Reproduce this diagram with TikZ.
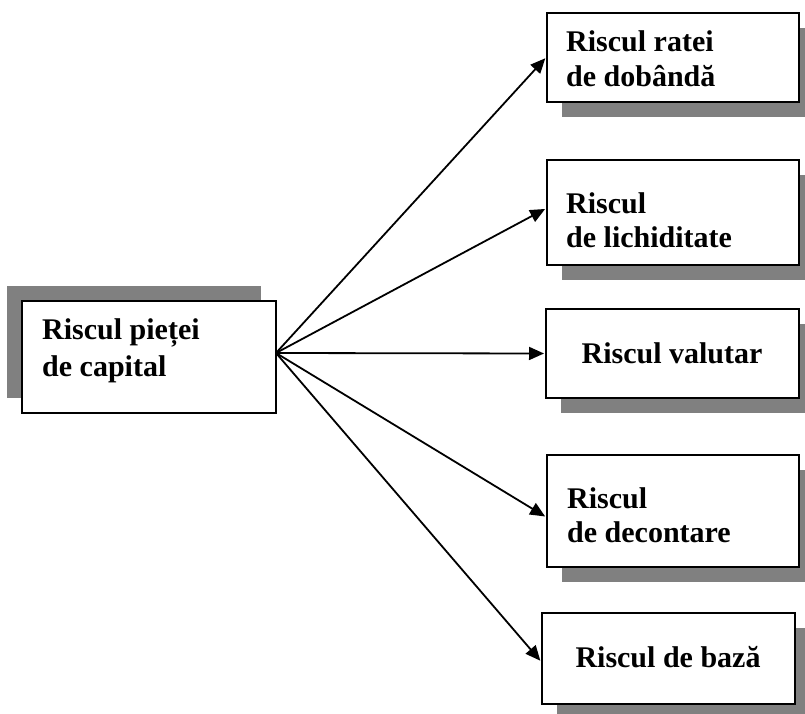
\documentclass[tikz,border=0pt]{standalone}
\usepackage{fontspec}
\setmainfont{Liberation Serif}
\usetikzlibrary{arrows.meta,shadows}
\definecolor{shadowgray}{HTML}{808080}
\begin{document}
\begin{tikzpicture}[x=1pt,y=-1pt,
  box/.style={draw, line width=2pt, fill=white, inner sep=0pt},
  rshadow/.style={drop shadow={shadow xshift=15pt, shadow yshift=-15pt, fill=shadowgray, opacity=1}},
  lshadow/.style={drop shadow={shadow xshift=-15pt, shadow yshift=15pt, fill=shadowgray, opacity=1}},
  txt/.style={inner sep=0pt, font=\fontsize{30}{36}\selectfont\bfseries},
  conn/.style={line width=1.8pt, -{Triangle[length=15pt,width=13pt]}, shorten >=1pt}
]
\useasboundingbox (0,0) rectangle (805,714);
\begin{scope}
\clip (0,0) rectangle (805,714);
% boxes
\node[box, lshadow, minimum width=254pt, minimum height=112pt] (L) at (149,357) {};
\node[box, rshadow, minimum width=252pt, minimum height=89pt] (B1) at (673,57.5) {};
\node[box, rshadow, minimum width=252pt, minimum height=105pt] (B2) at (673,212.5) {};
\node[box, rshadow, minimum width=253pt, minimum height=89pt] (B3) at (672.5,353.5) {};
\node[box, rshadow, minimum width=252pt, minimum height=112pt] (B4) at (673,511) {};
\node[box, rshadow, minimum width=253pt, minimum height=91pt] (B5) at (668.5,658.5) {};
\end{scope}
% texts
\node[txt, anchor=base west] (L1) at (42,339) {Riscul pieței};
\node[txt, anchor=base west] (L2) at (42,376) {de capital};
\node[txt, anchor=base west] (T1a) at (566,52) {Riscul ratei};
\node[txt, anchor=base west] (T1b) at (566,87) {de dobândă};
\node[txt, anchor=base west] (T2a) at (566,213) {Riscul};
\node[txt, anchor=base west] (T2b) at (566,247) {de lichiditate};
\node[txt, anchor=base] (T3) at (672,363) {Riscul valutar};
\node[txt, anchor=base west] (T4a) at (567,508) {Riscul};
\node[txt, anchor=base west] (T4b) at (567,542) {de decontare};
\node[txt, anchor=base] (T5) at (668,667) {Riscul de bază};
% connectors
\coordinate (O) at (276,353);
\draw[conn] (O) -- (B1.west);
\draw[conn] (O) -- ([yshift=4pt]B2.west);
\draw[conn] (O) -- (B3.west);
\draw[conn] (O) -- ([yshift=-6pt]B4.west);
\draw[conn] (O) -- ([yshift=-3pt]B5.west);
\end{tikzpicture}
\end{document}
